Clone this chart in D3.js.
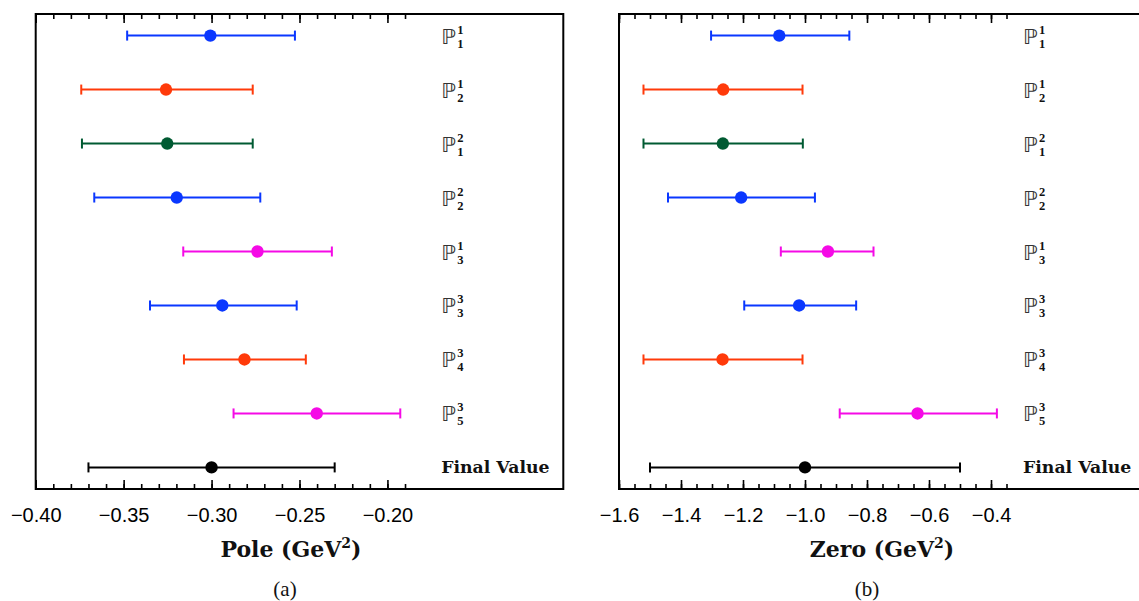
<!DOCTYPE html>
<html>
<head>
<meta charset="utf-8">
<script src="https://cdn.jsdelivr.net/npm/d3@7"></script>
<style>
  html, body { margin: 0; padding: 0; background: #fff; }
  svg { display: block; }
</style>
</head>
<body>
<svg id="chart" width="1139" height="601"></svg>
<script>
// Row labels: P^sup_sub for the approximants, plus the combined result
const rowSup = [1, 1, 2, 2, 1, 3, 3, 3];
const rowSub = [1, 2, 1, 2, 3, 3, 4, 5];
const finalLabel = "Final Value";
const rowColors = ["#0a37ff", "#ff3a0a", "#005a32", "#0a37ff", "#f50ae6", "#0a37ff", "#ff3a0a", "#f50ae6", "#000000"];

// Pole position (GeV^2): central value and error-bar ends
const poleValue = [-0.3007, -0.3259, -0.3252, -0.3198, -0.2739, -0.2939, -0.2813, -0.2402, -0.300];
const poleLow   = [-0.348, -0.3741, -0.3737, -0.3667, -0.3161, -0.335, -0.3157, -0.2875, -0.370];
const poleHigh  = [-0.2526, -0.2766, -0.2766, -0.2723, -0.2316, -0.2516, -0.2464, -0.1927, -0.230];

// Zero position (GeV^2): central value and error-bar ends
const zeroValue = [-1.083, -1.264, -1.265, -1.206, -0.926, -1.019, -1.266, -0.637, -1.0];
const zeroLow   = [-1.303, -1.521, -1.521, -1.442, -1.078, -1.196, -1.521, -0.888, -1.5];
const zeroHigh  = [-0.857, -1.008, -1.007, -0.968, -0.779, -0.835, -1.008, -0.381, -0.5];

// Tick values
const poleMajorTicks = [-0.40, -0.35, -0.30, -0.25, -0.20];
const poleMinorTicks = d3.range(-40, -18).map(d => d / 100);
const zeroMajorTicks = [-1.6, -1.4, -1.2, -1.0, -0.8, -0.6, -0.4];
const zeroMinorTicks = d3.range(-32, -6).map(d => d / 20);

const svg = d3.select("#chart");
const fmtMinus = s => s.replace("-", "\u2212");

function panel(opts) {
  const { left, width, top, height, domain, value, low, high,
          majors, minors, fmt, title, caption, titleX, captionX } = opts;
  const x = d3.scaleLinear().domain(domain).range([left, left + width]);
  const y = d3.scaleLinear().domain([0.6, 9.4]).range([top, top + height]);
  const rows = d3.range(value.length).map(i => ({
    i, v: value[i], lo: low[i], hi: high[i], c: rowColors[i], ypos: i + 1
  }));

  const g = svg.append("g");

  // error bars
  const bars = g.selectAll("g.bar").data(rows).join("g").attr("class", "bar");
  bars.append("line")
    .attr("x1", d => x(d.lo)).attr("x2", d => x(d.hi))
    .attr("y1", d => y(d.ypos)).attr("y2", d => y(d.ypos))
    .attr("stroke", d => d.c).attr("stroke-width", 2);
  bars.append("line")
    .attr("x1", d => x(d.lo)).attr("x2", d => x(d.lo))
    .attr("y1", d => y(d.ypos) - 5).attr("y2", d => y(d.ypos) + 5)
    .attr("stroke", d => d.c).attr("stroke-width", 2);
  bars.append("line")
    .attr("x1", d => x(d.hi)).attr("x2", d => x(d.hi))
    .attr("y1", d => y(d.ypos) - 5).attr("y2", d => y(d.ypos) + 5)
    .attr("stroke", d => d.c).attr("stroke-width", 2);
  bars.append("circle")
    .attr("cx", d => x(d.v)).attr("cy", d => y(d.ypos)).attr("r", 6.2)
    .attr("fill", d => d.c);

  // row labels
  const labX = x(domain[0]) + (opts.labelOffset);
  rows.forEach(d => {
    const yy = y(d.ypos);
    if (d.i < rowSup.length) {
      g.append("text").attr("x", labX).attr("y", yy + 8)
        .attr("font-family", "DejaVu Sans").attr("font-size", 21)
        .attr("fill", "#333").text("\u2119");
      g.append("text").attr("x", labX + 16).attr("y", yy - 2)
        .attr("font-family", "Liberation Serif").attr("font-weight", "bold")
        .attr("font-size", 12.5).attr("fill", "#111").text(rowSup[d.i]);
      g.append("text").attr("x", labX + 16).attr("y", yy + 12)
        .attr("font-family", "Liberation Serif").attr("font-weight", "bold")
        .attr("font-size", 12.5).attr("fill", "#111").text(rowSub[d.i]);
    } else {
      g.append("text").attr("x", labX).attr("y", yy + 6)
        .attr("font-family", "DejaVu Serif").attr("font-weight", "bold")
        .attr("font-size", 17.3).attr("fill", "#111").text(finalLabel);
    }
  });

  // bottom axis: major ticks with labels, minor ticks without
  const bottom = top + height;
  const axMaj = d3.axisBottom(x).tickValues(majors).tickSize(-9).tickPadding(19)
    .tickFormat(d => fmtMinus(fmt(d)));
  const axMin = d3.axisBottom(x).tickValues(minors).tickSize(-5).tickFormat("");
  const gb = g.append("g").attr("transform", `translate(0,${bottom})`);
  gb.call(axMin);
  gb.append("g").call(axMaj);
  const gt = g.append("g").attr("transform", `translate(0,${top})`);
  gt.call(d3.axisTop(x).tickValues(minors).tickSize(-5).tickFormat(""));
  gt.append("g").call(d3.axisTop(x).tickValues(majors).tickSize(-9).tickFormat(""));
  g.selectAll(".domain").remove();
  g.selectAll(".tick line").attr("stroke", "#000").attr("stroke-width", 1.6);
  g.selectAll(".tick text").attr("font-family", "Liberation Sans")
    .attr("font-size", 20).attr("fill", "#000");

  // frame
  g.append("rect").attr("x", left).attr("y", top).attr("width", width).attr("height", height)
    .attr("fill", "none").attr("stroke", "#000").attr("stroke-width", 2);

  // axis title with superscript
  const t = g.append("text").attr("x", titleX).attr("y", 557)
    .attr("text-anchor", "middle").attr("font-family", "DejaVu Serif")
    .attr("font-weight", "bold").attr("font-size", 22).attr("fill", "#111");
  t.append("tspan").text(title + " (GeV");
  t.append("tspan").attr("dy", -9).attr("font-size", 14).text("2");
  t.append("tspan").attr("dy", 9).text(")");

  g.append("text").attr("x", captionX).attr("y", 596)
    .attr("text-anchor", "middle").attr("font-family", "Liberation Serif")
    .attr("font-size", 21).attr("fill", "#111").text(caption);
}

panel({
  left: 35.7, width: 527.6, top: 14, height: 475,
  domain: [-0.40, -0.10], value: poleValue, low: poleLow, high: poleHigh,
  majors: poleMajorTicks, minors: poleMinorTicks, fmt: d3.format(".2f"),
  title: "Pole", caption: "(a)", titleX: 291, captionX: 285, labelOffset: 405.5
});

panel({
  left: 619, width: 527, top: 14, height: 475,
  domain: [-1.6, 0.1], value: zeroValue, low: zeroLow, high: zeroHigh,
  majors: zeroMajorTicks, minors: zeroMinorTicks, fmt: d3.format(".1f"),
  title: "Zero", caption: "(b)", titleX: 882, captionX: 867, labelOffset: 404
});
</script>
</body>
</html>
